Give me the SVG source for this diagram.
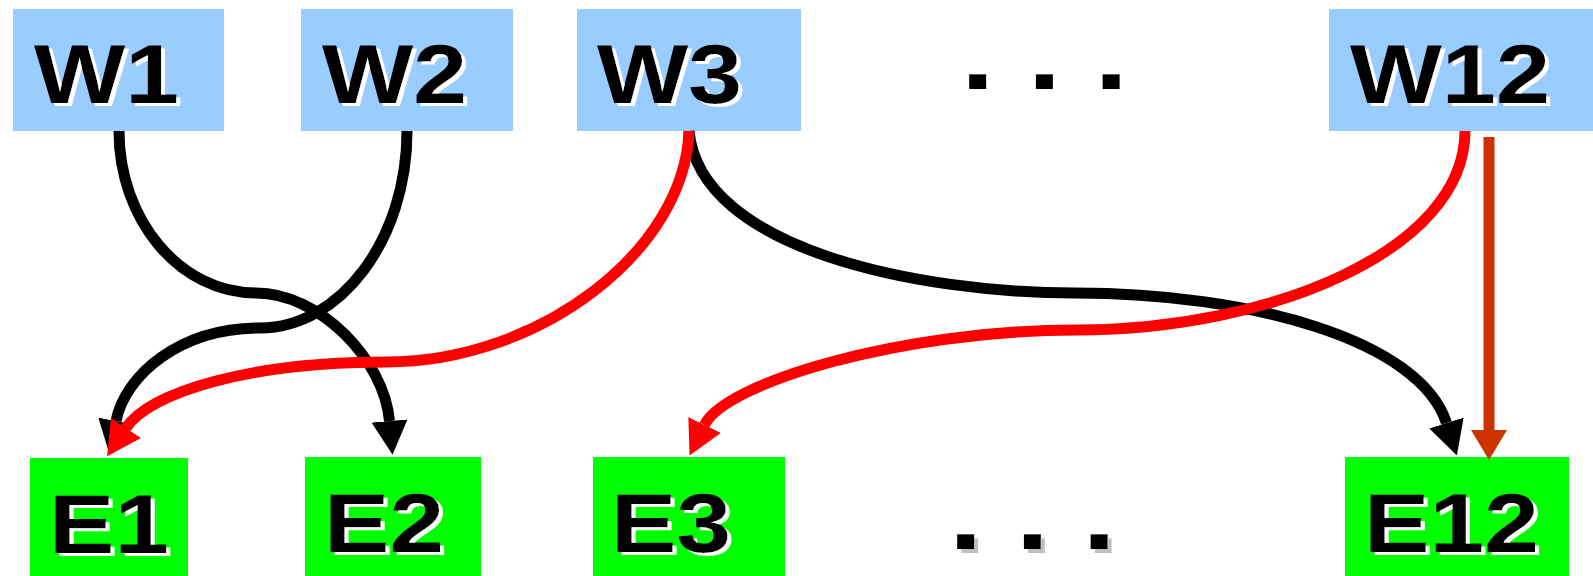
<svg xmlns="http://www.w3.org/2000/svg" width="1593" height="576" viewBox="0 0 1593 576">
<style>
.w{fill:#99ccff}
.e{fill:#00ff00}
.lbl{font-family:"Liberation Sans",Arial,sans-serif;font-weight:bold;font-size:84px;fill:#000000;filter:url(#wsh)}
.dots{font-family:"Liberation Sans",Arial,sans-serif;font-weight:bold;font-size:98px;fill:#000000}
.gs{filter:url(#gsh)}
.c{fill:none;stroke-width:11;stroke-linecap:butt}
.k{stroke:#000000}
.r{stroke:#ff0000}
.b{stroke:#cc3300}
</style>
<defs>
<filter id="wsh" x="-10%" y="-10%" width="130%" height="130%"><feOffset in="SourceAlpha" dx="4" dy="3" result="o"/><feFlood flood-color="#ffffff"/><feComposite in2="o" operator="in" result="s"/><feMerge><feMergeNode in="s"/><feMergeNode in="SourceGraphic"/></feMerge></filter>
<filter id="gsh" x="-10%" y="-10%" width="130%" height="130%"><feOffset in="SourceAlpha" dx="4" dy="4" result="o"/><feFlood flood-color="#c0c0c0"/><feComposite in2="o" operator="in" result="s"/><feMerge><feMergeNode in="s"/><feMergeNode in="SourceGraphic"/></feMerge></filter>
<marker id="ak" markerUnits="userSpaceOnUse" markerWidth="34" markerHeight="36" viewBox="0 0 34 36" refX="0" refY="18" orient="auto"><path d="M0,0 L34,18 L0,36 Z" fill="#000000"/></marker>
<marker id="ar" markerUnits="userSpaceOnUse" markerWidth="34" markerHeight="36" viewBox="0 0 34 36" refX="0" refY="18" orient="auto"><path d="M0,0 L34,18 L0,36 Z" fill="#ff0000"/></marker>
<marker id="ab" markerUnits="userSpaceOnUse" markerWidth="30" markerHeight="36" viewBox="0 0 30 36" refX="0" refY="18" orient="auto"><path d="M0,0 L30,18 L0,36 Z" fill="#cc3300"/></marker>
</defs>
<rect width="1593" height="576" fill="#ffffff"/>
<g id="W1"><rect class="w" x="13" y="9" width="211" height="122"/><text class="lbl" x="34" y="103" textLength="145" lengthAdjust="spacingAndGlyphs">W1</text></g>
<g id="W2"><rect class="w" x="301" y="9" width="212" height="122"/><text class="lbl" x="322" y="103" textLength="145" lengthAdjust="spacingAndGlyphs">W2</text></g>
<g id="W3"><rect class="w" x="577" y="9" width="224" height="122"/><text class="lbl" x="597" y="103" textLength="145" lengthAdjust="spacingAndGlyphs">W3</text></g>
<g id="dots-top"><text class="dots" x="961" y="89" textLength="167" lengthAdjust="spacingAndGlyphs">. . .</text></g>
<g id="W12"><rect class="w" x="1329" y="9" width="264" height="122"/><text class="lbl" x="1350" y="103" textLength="200" lengthAdjust="spacingAndGlyphs">W12</text></g>
<g id="E1"><rect class="e" x="30" y="458" width="158" height="118"/><text class="lbl" x="49" y="553" textLength="120" lengthAdjust="spacingAndGlyphs">E1</text></g>
<g id="E2"><rect class="e" x="305" y="457" width="176" height="119"/><text class="lbl" x="324" y="552" textLength="120" lengthAdjust="spacingAndGlyphs">E2</text></g>
<g id="E3"><rect class="e" x="593" y="457" width="192" height="119"/><text class="lbl" x="611" y="552" textLength="120" lengthAdjust="spacingAndGlyphs">E3</text></g>
<g id="dots-bottom"><text class="dots gs" x="949" y="549" textLength="167" lengthAdjust="spacingAndGlyphs">. . .</text></g>
<g id="E12"><rect class="e" x="1345" y="457" width="224" height="119"/><text class="lbl" x="1364" y="552" textLength="175" lengthAdjust="spacingAndGlyphs">E12</text></g>
<g id="connectors">
<path class="c k" d="M119,131 C119,220 180,293 256,293 C320,293 384,360 389.5,421" marker-end="url(#ak)"/>
<path class="c k" d="M407,131 C407,240 340,328 260,328 C180,328 125,375 116,421" marker-end="url(#ak)"/>
<path class="c k" d="M689,131 C700,250 920,293 1075,293 C1250,293 1420,340 1446.5,423" marker-end="url(#ak)"/>
<path class="c r" d="M689,131 C685,250 540,362 386,362 C250,362 150,392 126,428" marker-end="url(#ar)"/>
<path class="c r" d="M1465,131 C1465,250 1270,330 1077,330 C900,330 725,383 704.5,425" marker-end="url(#ar)"/>
<path class="c b" d="M1489,137 L1489,430" marker-end="url(#ab)"/>
</g>
</svg>
